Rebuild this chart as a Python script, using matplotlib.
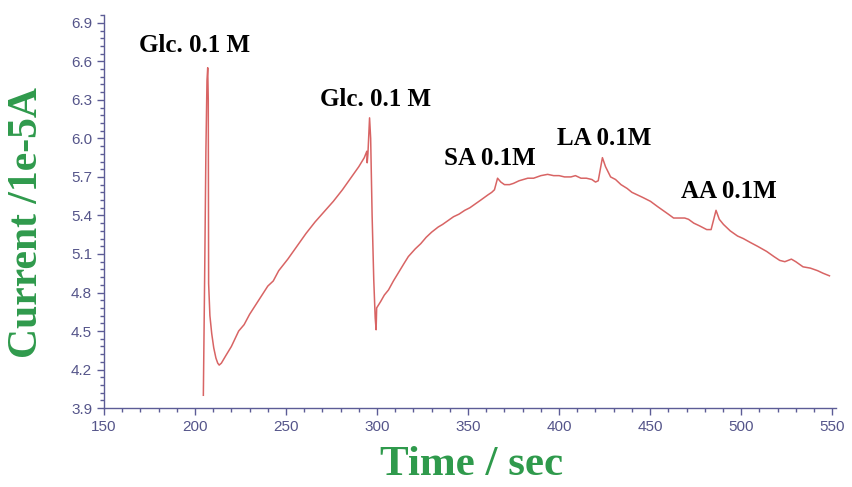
import matplotlib
matplotlib.use("Agg")
import matplotlib.pyplot as plt
from matplotlib.ticker import MultipleLocator

# ---- data ----
time_s = [204.6, 205.3, 206.0, 206.6, 207.0, 207.3, 207.5, 208.2, 209.2, 210.3, 211.5, 212.5, 213.3,
          214.5, 217, 220, 224, 227, 230, 235, 240, 243, 246, 251, 256, 261, 266, 271, 276, 281, 286, 290, 293,
          294.4, 294.6, 295.0, 295.9, 296.5, 297.3, 298.2, 299.0, 299.5, 299.8,
          302, 304, 306.3, 309, 312, 315, 317.2, 321, 324, 327, 330, 333.6, 336, 339, 342, 345, 348.2,
          351, 354, 357, 360.9, 363, 364.5, 366.2, 368, 370, 372.8, 375, 378, 382.8, 386, 390, 393.7,
          397, 400, 403, 406.5, 409, 412, 415, 418, 420, 421.5, 423.8, 425.5, 428.3, 431, 434, 437.4,
          440, 443, 446, 450.2, 454, 457, 460, 462.9, 466, 469, 471.1, 474, 477, 481.1, 483.5, 486.2,
          488, 490.3, 494, 498, 501.2, 505, 509, 514, 518, 521.2, 524, 527.6, 530, 534, 538, 542, 545,
          548.5]
current = [4.00, 4.90, 5.90, 6.45, 6.55, 6.30, 4.87, 4.62, 4.48, 4.37, 4.29, 4.25, 4.235,
           4.25, 4.31, 4.38, 4.50, 4.55, 4.63, 4.74, 4.85, 4.89, 4.97, 5.06, 5.16, 5.26, 5.35, 5.43, 5.51, 5.60, 5.70, 5.78, 5.85,
           5.90, 5.81, 5.88, 6.16, 6.00, 5.40, 4.90, 4.60, 4.51, 4.68,
           4.73, 4.78, 4.82, 4.89, 4.96, 5.03, 5.08, 5.14, 5.18, 5.23, 5.27, 5.31, 5.33, 5.36, 5.39, 5.41, 5.44,
           5.46, 5.49, 5.52, 5.56, 5.58, 5.60, 5.69, 5.66, 5.64, 5.64, 5.65, 5.67, 5.69, 5.69, 5.71, 5.72,
           5.71, 5.71, 5.70, 5.70, 5.71, 5.69, 5.69, 5.68, 5.66, 5.67, 5.85, 5.78, 5.70, 5.68, 5.64, 5.61,
           5.58, 5.56, 5.54, 5.51, 5.47, 5.44, 5.41, 5.38, 5.38, 5.38, 5.37, 5.34, 5.32, 5.29, 5.29, 5.44,
           5.37, 5.33, 5.28, 5.24, 5.22, 5.19, 5.16, 5.12, 5.08, 5.05, 5.04, 5.06, 5.04, 5.00, 4.99, 4.97, 4.95,
           4.93]

annot_text = ["Glc. 0.1 M", "Glc. 0.1 M", "SA 0.1M", "LA 0.1M", "AA 0.1M"]
annot_x = [199.7, 299.2, 362.0, 424.9, 493.2]
annot_y = [6.72, 6.30, 5.84, 6.00, 5.59]

x_ticks = [150, 200, 250, 300, 350, 400, 450, 500, 550]
y_ticks = [3.9, 4.2, 4.5, 4.8, 5.1, 5.4, 5.7, 6.0, 6.3, 6.6, 6.9]

axis_col = "#5c5c96"
label_col = "#2f9a4c"

fig = plt.figure(figsize=(8.52, 4.87), dpi=100)
ax = fig.add_axes([0.122, 0.162, 0.859, 0.807])

ax.plot(time_s, current, color="#d86464", lw=1.1)

ax.set_xlim(150, 552)
ax.set_ylim(3.9, 6.96)
ax.set_xticks(x_ticks)
ax.set_yticks(y_ticks)
ax.set_yticklabels([f"{v:.1f}" for v in y_ticks])
ax.xaxis.set_minor_locator(MultipleLocator(10))
ax.yaxis.set_minor_locator(MultipleLocator(0.06))

for s in ["top", "right"]:
    ax.spines[s].set_visible(False)
for s in ["left", "bottom"]:
    ax.spines[s].set_color(axis_col)
    ax.spines[s].set_linewidth(1.0)

ax.tick_params(axis="both", which="major", direction="out", length=5, width=1,
               color=axis_col, labelcolor="#55558a", labelsize=11)
ax.tick_params(axis="both", which="minor", direction="out", length=3, width=1, color=axis_col)
for lab in ax.get_xticklabels() + ax.get_yticklabels():
    lab.set_family("Liberation Sans")

ax.set_xlabel("Time / sec", family="Liberation Serif", fontweight="bold",
              fontsize=31, color=label_col)
ax.set_ylabel("Current /1e-5A", family="Liberation Serif", fontweight="bold",
              fontsize=30, color=label_col)
ax.xaxis.set_label_coords(0.502, -0.097)
ax.yaxis.set_label_coords(-0.079, 0.473)

for t, x, y in zip(annot_text, annot_x, annot_y):
    ax.text(x, y, t, family="Liberation Serif", fontweight="bold", fontsize=18,
            color="black", ha="center", va="center")

fig.savefig("out.png", dpi=100)
